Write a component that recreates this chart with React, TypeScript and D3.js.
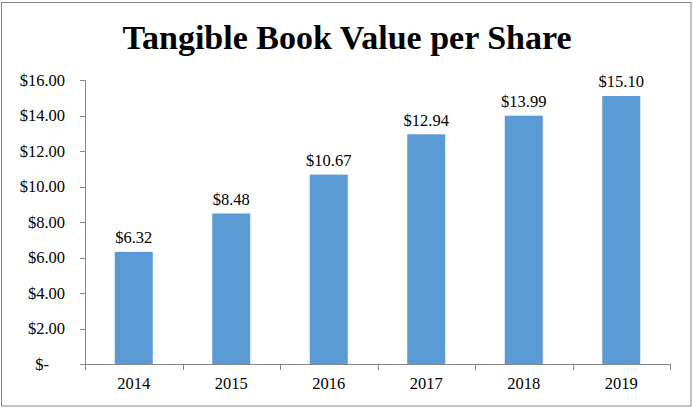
import React from "react";
import * as d3 from "d3";

const categories = ["2014", "2015", "2016", "2017", "2018", "2019"];
const values = [6.32, 8.48, 10.67, 12.94, 13.99, 15.1];
const valueLabels = ["$6.32", "$8.48", "$10.67", "$12.94", "$13.99", "$15.10"];
const yTicks = [0, 2, 4, 6, 8, 10, 12, 14, 16];
const yTickLabels = ["$-", "$2.00", "$4.00", "$6.00", "$8.00", "$10.00", "$12.00", "$14.00", "$16.00"];
const title = "Tangible Book Value per Share";

const W = 693;
const H = 408;
const margin = { left: 85, right: 23, top: 80, bottom: 44 };
const TXT = { fontFamily: '"Liberation Serif"' };
const BAR = "#5B9BD5";
const AXIS = "#868686";

export default function App() {
  const x = d3
    .scaleBand<string>()
    .domain(categories)
    .range([margin.left, W - margin.right])
    .paddingInner(0.61)
    .paddingOuter(0.305);
  const xb = d3.scaleBand<string>().domain(categories).range([margin.left, W - margin.right]);
  const y = d3.scaleLinear().domain([0, 16]).range([H - margin.bottom, margin.top]);
  const y0 = y(0);

  return (
    <svg width={W} height={H} style={{ position: "absolute", left: 0, top: 0, background: "#fff" }}>
      <rect x={1.5} y={2.5} width={689.5} height={403.5} fill="#fff" stroke={AXIS} strokeWidth={1} />
      <text x={347} y={49} textAnchor="middle" fontSize={34} fontWeight="bold" fill="#000" style={TXT}>
        {title}
      </text>
      {/* y axis */}
      <line x1={margin.left + 0.5} x2={margin.left + 0.5} y1={y(16)} y2={y0} stroke={AXIS} />
      {yTicks.map((t, i) => (
        <g key={t}>
          <line x1={margin.left - 5} x2={margin.left} y1={Math.round(y(t)) + 0.5} y2={Math.round(y(t)) + 0.5} stroke={AXIS} />
          <text x={t === 0 ? 49 : 65} y={y(t) + 5.5} textAnchor="end" fontSize={16.5} fill="#000" style={TXT}>
            {yTickLabels[i]}
          </text>
        </g>
      ))}
      {/* bars */}
      {categories.map((c, i) => (
        <g key={c}>
          <rect x={x(c)} y={y(values[i])} width={x.bandwidth()} height={y0 - y(values[i])} fill={BAR} />
          <text
            x={(x(c) as number) + x.bandwidth() / 2}
            y={y(values[i]) - 8.5}
            textAnchor="middle"
            fontSize={16.5}
            fill="#000"
            style={TXT}
          >
            {valueLabels[i]}
          </text>
          <text
            x={(xb(c) as number) + xb.bandwidth() / 2}
            y={389}
            textAnchor="middle"
            fontSize={16.5}
            fill="#000"
            style={TXT}
          >
            {c}
          </text>
        </g>
      ))}
      {/* x axis */}
      <line x1={margin.left} x2={W - margin.right} y1={Math.round(y0) + 0.5} y2={Math.round(y0) + 0.5} stroke={AXIS} />
      {categories.concat(["end"]).map((c, i) => {
        const xx = Math.round(margin.left + i * xb.step()) + 0.5;
        return <line key={"t" + i} x1={xx} x2={xx} y1={y0} y2={y0 + 6} stroke={AXIS} />;
      })}
    </svg>
  );
}
